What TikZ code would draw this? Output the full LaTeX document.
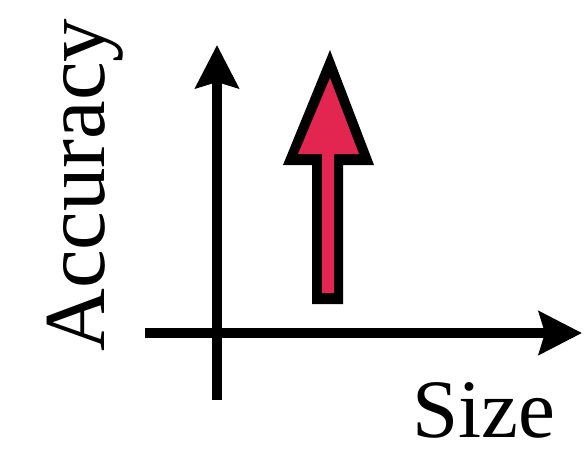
\documentclass[tikz,border=0pt]{standalone}
\usepackage{fontspec}
\setmainfont{Liberation Serif}
\usetikzlibrary{arrows.meta}
\definecolor{arrred}{HTML}{E2264F}
\tikzset{
  axis/.style={line width=10pt, -{Stealth[length=43pt,width=43pt,inset=6pt]}},
  lbl/.style={inner sep=0pt, font=\fontsize{85pt}{90pt}\selectfont}
}
\begin{document}
\begin{tikzpicture}[x=1pt,y=-1pt]
\useasboundingbox (0,0) rectangle (585,451);
% axes
\coordinate (yb) at (217,400);
\coordinate (yt) at (217,45);
\coordinate (xl) at (145,333);
\coordinate (xr) at (582,333);
\draw[axis] (yb) -- (yt);
\draw[axis] (xl) -- (xr);
% red arrow
\fill[black] (330,50) -- (374,165) -- (343,165) -- (343,304) -- (312,304) -- (312,165) -- (283,165) -- cycle;
\fill[arrred] (330,78) -- (359,154) -- (334,154) -- (334,293) -- (322,293) -- (322,154) -- (298,154) -- cycle;
% labels
\node[lbl, rotate=90, anchor=base west, font=\fontsize{87pt}{90pt}\selectfont] (acc) at (104,352) {Accuracy};
\node[lbl, anchor=base west, font=\fontsize{83pt}{90pt}\selectfont] (size) at (412,437) {Size};
\end{tikzpicture}
\end{document}
